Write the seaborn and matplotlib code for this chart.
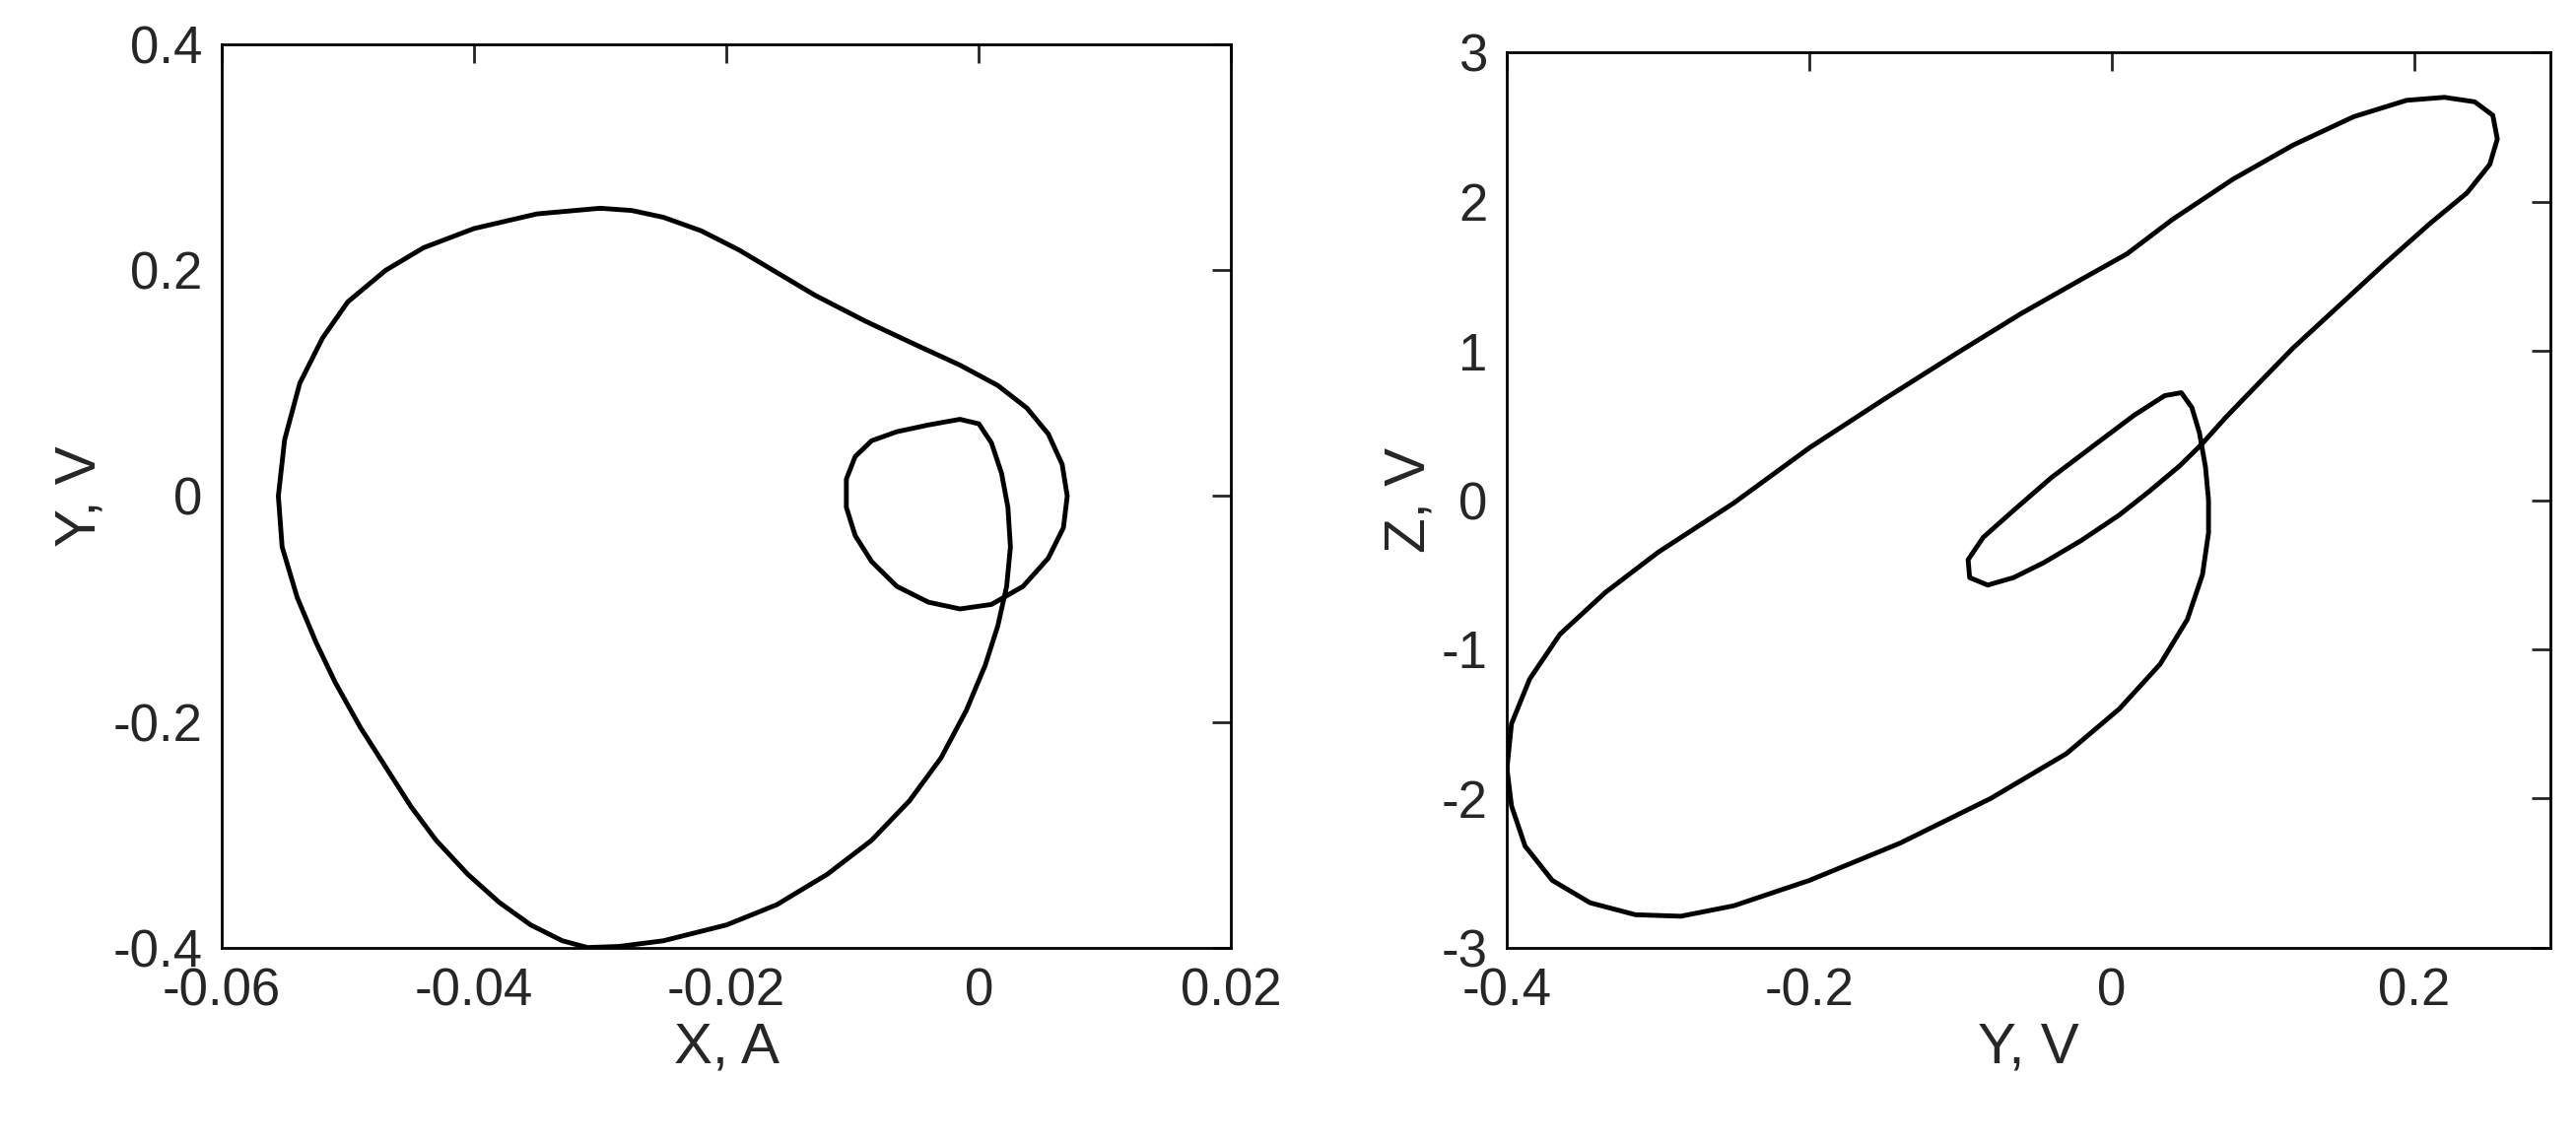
import numpy as np
import pandas as pd
import seaborn as sns
import matplotlib.pyplot as plt

# left portrait: X (A) vs Y (V)
x_left = [-0.030, -0.035, -0.040, -0.044, -0.047, -0.050, -0.052, -0.0538, -0.0550, -0.0555,
          -0.0552, -0.0540, -0.0525, -0.0510, -0.0490, -0.0470, -0.0450, -0.0430, -0.0405, -0.0380,
          -0.0355, -0.0330, -0.0310, -0.0285, -0.0250, -0.0200, -0.0160, -0.0120, -0.0085, -0.0055,
          -0.0030, -0.0010, 0.0005, 0.0015, 0.0022, 0.0025, 0.0023, 0.0018, 0.0010, 0.0,
          -0.0015, -0.0040, -0.0065, -0.0085, -0.0098, -0.0105, -0.0105, -0.0098, -0.0085, -0.0065,
          -0.0040, -0.0015, 0.0010, 0.0035, 0.0055, 0.0067, 0.0070, 0.0066, 0.0055, 0.0038,
          0.0015, -0.0015, -0.0050, -0.0090, -0.0130, -0.0160, -0.0190, -0.0220, -0.0250, -0.0275,
          -0.0300]
y_left = [0.255, 0.250, 0.237, 0.220, 0.200, 0.172, 0.140, 0.100, 0.050, 0.0,
          -0.045, -0.090, -0.130, -0.165, -0.205, -0.240, -0.275, -0.305, -0.335, -0.360,
          -0.380, -0.394, -0.400, -0.399, -0.394, -0.380, -0.362, -0.335, -0.305, -0.270,
          -0.232, -0.190, -0.150, -0.115, -0.080, -0.045, -0.010, 0.020, 0.047, 0.064,
          0.068, 0.063, 0.057, 0.049, 0.035, 0.015, -0.010, -0.035, -0.058, -0.080,
          -0.094, -0.100, -0.096, -0.080, -0.055, -0.028, 0.0, 0.028, 0.055, 0.078,
          0.098, 0.116, 0.134, 0.155, 0.178, 0.198, 0.218, 0.235, 0.247, 0.253,
          0.255]

# right portrait: Y (V) vs Z (V)
y_right = [-0.400, -0.397, -0.385, -0.365, -0.335, -0.300, -0.250, -0.200, -0.150, -0.100,
           -0.060, -0.020, 0.010, 0.040, 0.080, 0.120, 0.160, 0.195, 0.220, 0.240,
           0.252, 0.255, 0.250, 0.235, 0.210, 0.180, 0.150, 0.120, 0.095, 0.075,
           0.060, 0.045, 0.025, 0.005, -0.020, -0.045, -0.065, -0.082, -0.094, -0.095,
           -0.085, -0.065, -0.040, -0.010, 0.015, 0.035, 0.046, 0.053, 0.058, 0.062,
           0.064, 0.064, 0.060, 0.050, 0.032, 0.005, -0.030, -0.080, -0.140, -0.200,
           -0.250, -0.285, -0.315, -0.345, -0.370, -0.388, -0.397, -0.400]
z_right = [-1.80, -1.50, -1.20, -0.90, -0.62, -0.35, -0.02, 0.35, 0.68, 1.00,
           1.25, 1.48, 1.65, 1.88, 2.15, 2.38, 2.57, 2.68, 2.70, 2.67,
           2.58, 2.42, 2.25, 2.06, 1.85, 1.58, 1.30, 1.02, 0.76, 0.55,
           0.38, 0.23, 0.06, -0.10, -0.27, -0.42, -0.52, -0.57, -0.52, -0.40,
           -0.25, -0.07, 0.15, 0.38, 0.57, 0.70, 0.72, 0.62, 0.45, 0.22,
           0.0, -0.22, -0.50, -0.80, -1.10, -1.40, -1.70, -2.00, -2.30, -2.55,
           -2.72, -2.79, -2.78, -2.70, -2.55, -2.32, -2.05, -1.80]

sns.set_style("white")
plt.rcParams['font.family'] = ['Liberation Sans', 'DejaVu Sans']

fig = plt.figure(figsize=(26.14, 11.6), dpi=100)
ax1 = fig.add_axes([0.086, 0.171, 0.392, 0.790])
ax2 = fig.add_axes([0.585, 0.171, 0.405, 0.783])

df1 = pd.DataFrame({'x': x_left, 'y': y_left})
df2 = pd.DataFrame({'y': y_right, 'z': z_right})
sns.lineplot(data=df1, x='x', y='y', sort=False, estimator=None, color='black', lw=3.5, ax=ax1)
sns.lineplot(data=df2, x='y', y='z', sort=False, estimator=None, color='black', lw=3.5, ax=ax2)

ax1.set_xlim(-0.06, 0.02)
ax1.set_ylim(-0.4, 0.4)
ax1.set_xticks([-0.06, -0.04, -0.02, 0, 0.02], ['-0.06', '-0.04', '-0.02', '0', '0.02'])
ax1.set_yticks([-0.4, -0.2, 0, 0.2, 0.4], ['-0.4', '-0.2', '0', '0.2', '0.4'])
ax1.set_xlabel('X, A')
ax1.set_ylabel('Y, V')

ax2.set_xlim(-0.4, 0.29)
ax2.set_ylim(-3, 3)
ax2.set_xticks([-0.4, -0.2, 0, 0.2], ['-0.4', '-0.2', '0', '0.2'])
ax2.set_yticks([-3, -2, -1, 0, 1, 2, 3], ['-3', '-2', '-1', '0', '1', '2', '3'])
ax2.set_xlabel('Y, V')
ax2.set_ylabel('Z, V')

for ax in (ax1, ax2):
    ax.tick_params(direction='in', length=14, width=2, top=True, right=True,
                   labelsize=38, pad=14)
    ax.xaxis.label.set_size(42)
    ax.yaxis.label.set_size(42)
    for s in ax.spines.values():
        s.set_color('black')
        s.set_linewidth(2)

fig.savefig('out.png', dpi=100)
